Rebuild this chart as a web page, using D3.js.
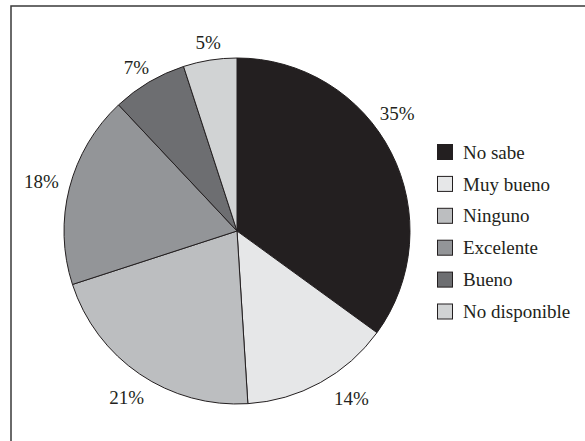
<!DOCTYPE html>
<html>
<head>
<meta charset="utf-8">
<script src="https://cdn.jsdelivr.net/npm/d3@7"></script>
<style>
  html, body { margin: 0; padding: 0; background: #fff; }
  svg { display: block; }
  text { font-family: "Liberation Serif", "Times New Roman", serif; fill: #231f20; }
</style>
</head>
<body>
<svg id="chart" width="585" height="441"></svg>
<script>
// Survey answers, clockwise from 12 o'clock
const categories = ["No sabe", "Muy bueno", "Ninguno", "Excelente", "Bueno", "No disponible"];
const values = [35, 14, 21, 18, 7, 5];
const colors = ["#231f20", "#e6e7e8", "#bcbec0", "#939598", "#6d6e71", "#d1d3d4"];

const W = 585, H = 441;
const cx = 237, cy = 231, radius = 173;

const svg = d3.select("#chart");

// outer frame (runs past the right and bottom edges)
svg.append("rect")
  .attr("x", 11).attr("y", 6)
  .attr("width", W + 20).attr("height", H + 20)
  .attr("fill", "none").attr("stroke", "#3a3a3a").attr("stroke-width", 1.5);

const data = categories.map((c, i) => ({ name: c, value: values[i], color: colors[i] }));

const pie = d3.pie().value(d => d.value).sort(null);
const arcs = pie(data);
const arc = d3.arc().innerRadius(0).outerRadius(radius);

const g = svg.append("g").attr("transform", `translate(${cx},${cy})`);

g.selectAll("path.slice")
  .data(arcs)
  .join("path")
  .attr("class", "slice")
  .attr("d", arc)
  .attr("fill", d => d.data.color)
  .attr("stroke", "#231f20")
  .attr("stroke-width", 1)
  .attr("stroke-linejoin", "round");

// percentage labels outside the rim; small nudges keep them clear of the edge
const labelRadius = [200, 200, 200, 200, 190, 190];
const nudge = [[-18, -27], [18, -8], [2, 1], [-2, 0], [-4, 0], [1, -1]];

g.selectAll("text.pct")
  .data(arcs)
  .join("text")
  .attr("class", "pct")
  .attr("text-anchor", "middle")
  .attr("dy", "0.35em")
  .attr("font-size", 19)
  .attr("transform", (d, i) => {
    const a = (d.startAngle + d.endAngle) / 2;
    const r = labelRadius[i];
    const x = r * Math.sin(a) + nudge[i][0];
    const y = -r * Math.cos(a) + nudge[i][1];
    return `translate(${x},${y})`;
  })
  .text(d => d.data.value + "%");

// legend
const legend = svg.append("g").attr("transform", "translate(437,152)");
const rowStep = 31.9;
const rows = legend.selectAll("g.row")
  .data(data)
  .join("g")
  .attr("class", "row")
  .attr("transform", (d, i) => `translate(0,${i * rowStep})`);

rows.append("rect")
  .attr("x", 0.5).attr("y", -7.5)
  .attr("width", 15).attr("height", 15)
  .attr("fill", d => d.color)
  .attr("stroke", "#231f20")
  .attr("stroke-width", 1);

rows.append("text")
  .attr("x", 26)
  .attr("dy", "0.35em")
  .attr("font-size", 19)
  .text(d => d.name);
</script>
</body>
</html>
